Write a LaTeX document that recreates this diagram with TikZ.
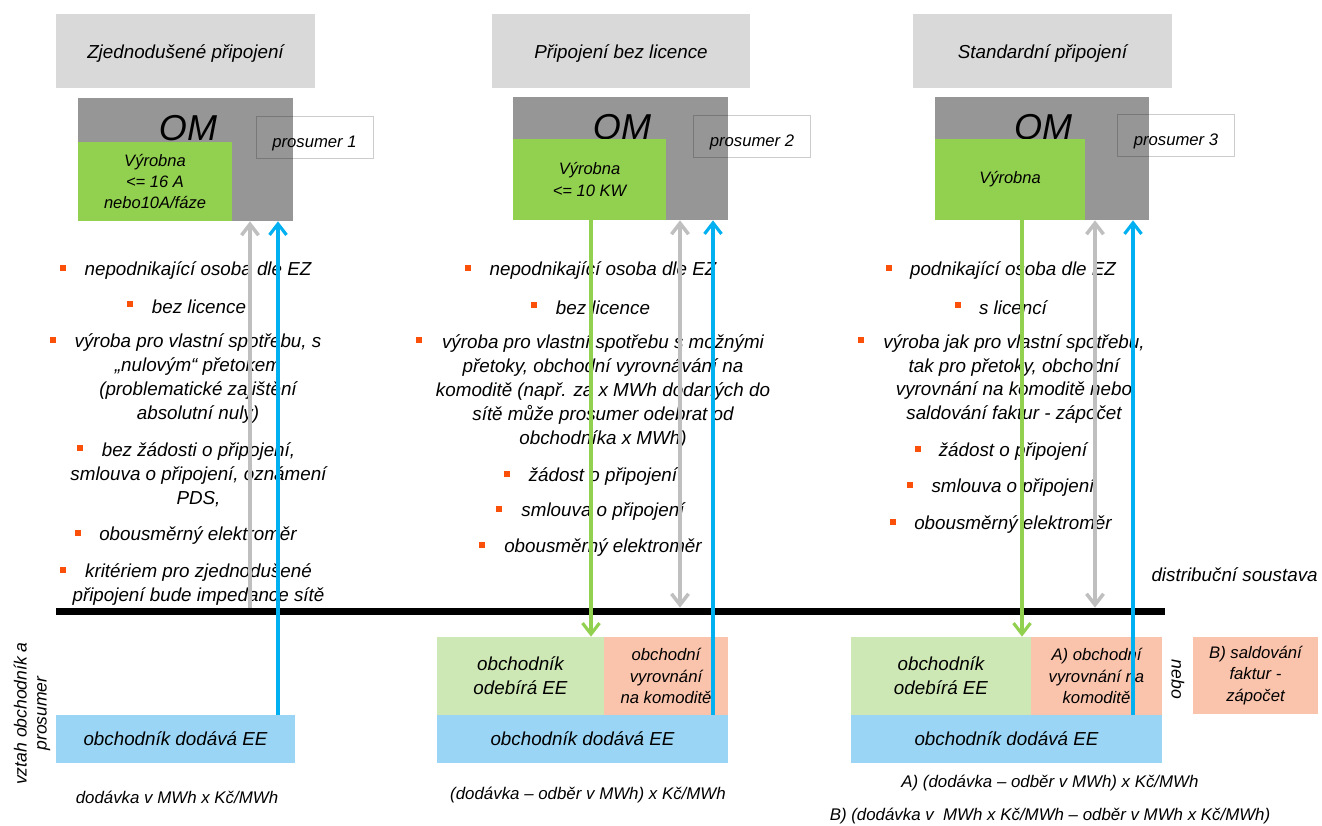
\documentclass[tikz,border=0pt]{standalone}
\usepackage{fontspec}
\setmainfont{Liberation Sans}
\usetikzlibrary{arrows.meta,positioning}
\tikzset{every node/.append style={align=center}}
\definecolor{titlegray}{RGB}{217,217,217}
\definecolor{omgray}{RGB}{150,150,150}
\definecolor{vyrgreen}{RGB}{146,208,80}
\definecolor{arrowgray}{RGB}{191,191,191}
\definecolor{arrowblue}{RGB}{0,176,240}
\definecolor{bulletorange}{RGB}{250,80,10}
\definecolor{dodblue}{RGB}{155,213,245}
\definecolor{odegreen}{RGB}{205,232,180}
\definecolor{vyrsalmon}{RGB}{250,195,172}

\begin{document}
\begin{tikzpicture}[
    x=0.02cm, y=-0.02cm,
    titul/.style={fill=titlegray, minimum width=5.18cm, minimum height=1.48cm, text height=8pt, text depth=0pt, font=\itshape\fontsize{10.7}{13.6}\selectfont},
    ombox/.style={fill=omgray, minimum width=4.3cm, minimum height=2.46cm, inner sep=0pt},
    omtext/.style={font=\itshape\fontsize{20.5}{24}\selectfont, inner sep=0pt},
    vyrobna/.style={fill=vyrgreen, inner sep=0pt, font=\itshape\fontsize{9.4}{12.2}\selectfont},
    prosumer/.style={draw=black, draw opacity=0.2, minimum width=2.33cm, minimum height=0.84cm, inner sep=0pt, text height=12pt, text depth=0pt, font=\itshape\fontsize{9.5}{11}\selectfont},
    bod/.style={font=\itshape\fontsize{10.7}{13.6}\selectfont, inner sep=0pt, yshift=-0.05cm},
    odr/.style={fill=bulletorange, minimum size=0.12cm, inner sep=0pt},
    dodava/.style={fill=dodblue, minimum height=0.96cm, inner sep=0pt, font=\itshape\fontsize{10.7}{13.6}\selectfont},
    odber/.style={fill=odegreen, minimum height=1.56cm, inner sep=0pt, font=\itshape\fontsize{10.7}{13.6}\selectfont},
    vyrovnani/.style={fill=vyrsalmon, minimum height=1.56cm, inner sep=0pt, font=\itshape\fontsize{9.5}{12.2}\selectfont},
    vzorec/.style={font=\itshape\fontsize{9.6}{12}\selectfont, inner sep=0pt},
    sipka/.style={-{Straight Barb[length=2.2mm,width=3.4mm]}},
    obousmer/.style={{Straight Barb[length=2.2mm,width=3.4mm]}-{Straight Barb[length=2.2mm,width=3.4mm]}},
    seda/.style={draw=arrowgray, line width=2pt},
    modra/.style={sipka, draw=arrowblue, line width=1.8pt},
    zelena/.style={sipka, draw=vyrgreen, line width=1.8pt}
]
    \useasboundingbox (0,0) rectangle (1322,825);

    % Headers
    \node[titul] (t1) at (185.5,51) {Zjednodušené připojení};
    \node[titul] (t2) at (621,51) {Připojení bez licence};
    \node[titul] (t3) at (1042.5,51) {Standardní připojení};

    % OM
    \node[ombox] (om1) at (185.5,159.5) {};
    \node[ombox] (om2) at (620.5,158.5) {};
    \node[ombox, minimum width=4.28cm] (om3) at (1042,158.5) {};
    \node[omtext] (omt1) at (188,128) {OM};
    \node[omtext] (omt2) at (622,127) {OM};
    \node[omtext] (omt3) at (1043,127) {OM};

    \node[vyrobna, minimum width=3.08cm, minimum height=1.58cm] (vyr1) at (155,181.5) {Výrobna\\<= 16 A\\nebo10A/fáze};
    \node[vyrobna, minimum width=3.06cm, minimum height=1.62cm] (vyr2) at (589.5,179.5) {Výrobna\\<= 10 KW};
    \node[vyrobna, minimum width=3cm, minimum height=1.62cm] (vyr3) at (1010,179.5) {Výrobna};

    \node[prosumer, minimum width=2.34cm] (pro1) at (314.5,137) {prosumer 1};
    \node[prosumer] (pro2) at (752,136) {prosumer 2};
    \node[prosumer] (pro3) at (1176,135) {prosumer 3};

    % Column 1
    \node[odr] (b11) at (63,268) {};
    \node[bod] (p11) at (198,268) {nepodnikající osoba dle EZ};
    \node[odr] (b12) at (130,304) {};
    \node[bod] (p12) at (199,304) {bez licence};
    \node[odr] (b13) at (53,340) {};
    \node[bod] (p13) at (198,376) {výroba pro vlastní spotřebu, s\\„nulovým“ přetokem\\(problematické zajištění\\absolutní nuly)};
    \node[odr] (b14) at (80,448) {};
    \node[bod] (p14) at (198.5,472.5) {bez žádosti o připojení,\\smlouva o připojení, oznámení\\PDS,};
    \node[odr] (b15) at (78,533) {};
    \node[bod] (p15) at (198,533) {obousměrný elektroměr};
    \node[odr] (b16) at (63,570) {};
    \node[bod] (p16) at (198.5,582) {kritériem pro zjednodušené\\připojení bude impedance sítě};

    % Column 2
    \node[odr] (b21) at (468,268) {};
    \node[bod] (p21) at (603,268) {nepodnikající osoba dle EZ};
    \node[odr] (b22) at (534,305) {};
    \node[bod] (p22) at (603,305) {bez licence};
    \node[odr] (b23) at (419,340) {};
    \node[bod] (p23) at (603,389) {výroba pro vlastní spotřebu s možnými\\přetoky, obchodní vyrovnávání na\\komoditě (např. za x MWh dodaných do\\sítě může prosumer odebrat od\\obchodníka x MWh)};
    \node[odr] (b24) at (507,474) {};
    \node[bod] (p24) at (603,474) {žádost o připojení};
    \node[odr] (b25) at (499,509) {};
    \node[bod] (p25) at (603,509) {smlouva o připojení};
    \node[odr] (b26) at (482,545) {};
    \node[bod] (p26) at (603,545) {obousměrný elektroměr};

    % Column 3
    \node[odr] (b31) at (889,268) {};
    \node[bod] (p31) at (1013,268) {podnikající osoba dle EZ};
    \node[odr] (b32) at (958,305) {};
    \node[bod] (p32) at (1013,305) {s licencí};
    \node[odr] (b33) at (861,340) {};
    \node[bod] (p33) at (1014,376.5) {výroba jak pro vlastní spotřebu,\\tak pro přetoky, obchodní\\vyrovnání na komoditě nebo\\saldování faktur - zápočet};
    \node[odr] (b34) at (918,449) {};
    \node[bod] (p34) at (1013,449) {žádost o připojení};
    \node[odr] (b35) at (910,485) {};
    \node[bod] (p35) at (1013,485) {smlouva o připojení};
    \node[odr] (b36) at (893,522) {};
    \node[bod] (p36) at (1013,522) {obousměrný elektroměr};

    % Distribution line
    \node[fill=black, inner sep=0pt, minimum width=22.18cm, minimum height=0.14cm] (sit) at (610.5,611.5) {};
    \node[bod, anchor=east] (ds) at (1318,572) {distribuční soustava};

    % Trader boxes
    \node[dodava, minimum width=4.78cm] (dod1) at (175.5,739) {obchodník dodává EE};
    \node[odber, minimum width=3.34cm] (ode2) at (520.5,676) {obchodník\\odebírá EE};
    \node[vyrovnani, minimum width=2.48cm] (vyr2b) at (666,676) {obchodní\\vyrovnání\\na komoditě};
    \node[dodava, minimum width=5.82cm] (dod2) at (582.5,739) {obchodník dodává EE};
    \node[odber, minimum width=3.6cm] (ode3) at (941,676) {obchodník\\odebírá EE};
    \node[vyrovnani, minimum width=2.62cm] (vyr3b) at (1096.5,676) {A) obchodní\\vyrovnání na\\komoditě};
    \node[dodava, minimum width=6.22cm] (dod3) at (1006.5,739) {obchodník dodává EE};
    \node[vyrovnani, minimum width=2.5cm, minimum height=1.54cm] (sal3) at (1255.5,675.5) {B) saldování\\faktur -\\zápočet};
    \node[bod, rotate=-90, font=\itshape\fontsize{10}{12}\selectfont] (nebo) at (1178,677) {nebo};
    \node[bod, rotate=90, font=\itshape\fontsize{10}{11.5}\selectfont] (vztah) at (32,711) {vztah obchodník a\\prosumer};

    % Formulas
    \node[vzorec] (f1) at (177,797) {dodávka v MWh x Kč/MWh};
    \node[vzorec] (f2) at (588,795) {(dodávka – odběr v MWh) x Kč/MWh};
    \node[vzorec] (f3a) at (1050,783) {A) (dodávka – odběr v MWh) x Kč/MWh};
    \node[vzorec] (f3b) at (1050,816) {B) (dodávka v\ \ MWh x Kč/MWh – odběr v MWh x Kč/MWh)};

    % Arrows
    \coordinate (g1) at (250,0);
    \coordinate (m1) at (278,0);
    \coordinate (z2) at (591,0);
    \coordinate (g2) at (680,0);
    \coordinate (m2) at (713,0);
    \coordinate (z3) at (1022,0);
    \coordinate (g3) at (1095,0);
    \coordinate (m3) at (1133,0);

    \draw[seda, sipka] (sit.north -| g1) -- (om1.south -| g1);
    \draw[modra] (dod1.north -| m1) -- (om1.south -| m1);
    \draw[zelena] (vyr2.south -| z2) -- (ode2.north -| z2);
    \draw[seda, obousmer] (om2.south -| g2) -- (sit.north -| g2);
    \draw[modra] (dod2.north -| m2) -- (om2.south -| m2);
    \draw[zelena] (vyr3.south -| z3) -- (ode3.north -| z3);
    \draw[seda, obousmer] (om3.south -| g3) -- (sit.north -| g3);
    \draw[modra] (dod3.north -| m3) -- (om3.south -| m3);

\end{tikzpicture}
\end{document}
